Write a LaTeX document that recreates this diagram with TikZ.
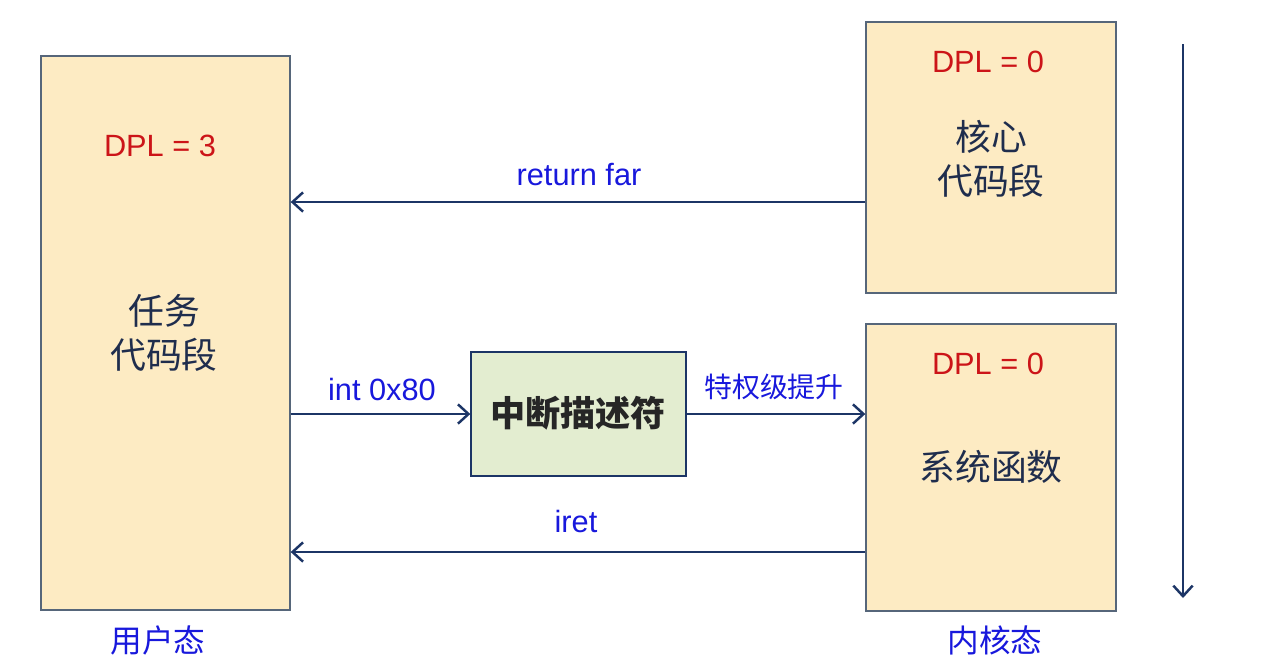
\documentclass[tikz,border=0pt]{standalone}
\usepackage{fontspec}
\setmainfont{Liberation Sans}
\newfontfamily\cjk{Noto Sans CJK SC}
\usetikzlibrary{arrows.meta}
\definecolor{segfill}{HTML}{FDEBC3}
\definecolor{segline}{HTML}{56667A}
\definecolor{idtfill}{HTML}{E3EDD0}
\definecolor{navy}{HTML}{1C3566}
\definecolor{lblblue}{HTML}{1818DC}
\definecolor{dplred}{HTML}{CC1418}
\definecolor{ink}{HTML}{1F2D4D}

\begin{document}
\begin{tikzpicture}[x=0.02cm, y=-0.02cm,
  seg/.style={draw=segline, fill=segfill, line width=0.8pt, inner sep=0pt},
  arr/.style={draw=navy, line width=1.4pt, -{Straight Barb[length=6pt, width=11pt, line width=1.4pt]}},
  dpl/.style={text=dplred, font=\fontsize{17.5}{20}\selectfont},
  segtext/.style={text=ink, font=\cjk\fontsize{20.4}{25}\selectfont, align=center},
  lbl/.style={text=lblblue, font=\fontsize{17.5}{20}\selectfont},
  zh/.style={text=lblblue, font=\cjk\fontsize{18}{21}\selectfont}]
  \useasboundingbox (0,0) rectangle (1262,664);
  % segments
  \node[seg, minimum width=4.98cm, minimum height=11.08cm] (task) at (165.5,333) {};
  \node[seg, minimum width=5.0cm, minimum height=5.42cm] (core) at (991,157.5) {};
  \node[seg, minimum width=5.0cm, minimum height=5.74cm] (sys) at (991,467.5) {};
  \node[draw=navy, fill=idtfill, line width=0.8pt, minimum width=4.3cm, minimum height=2.48cm] (idt) at (578.5,414) {};
  % texts in boxes
  \node[dpl] (dpl3) at (160,146) {DPL = 3};
  \node[dpl] (dpl0a) at (988,62) {DPL = 0};
  \node[dpl] (dpl0b) at (988,364) {DPL = 0};
  \node[segtext] (taskname) at (164,333) {任务\\代码段};
  \node[segtext] (corename) at (991,159) {核心\\代码段};
  \node[segtext] (sysname) at (991,467) {系统函数};
  \node[text=black!85, font=\cjk\bfseries\fontsize{20}{24}\selectfont] (idtname) at (578,413) {中断描述符};
  % connectors
  \draw[arr] (core.west |- 0,202) -- (task.east |- 0,202);
  \draw[arr] (task.east |- idt.west) -- (idt.west);
  \draw[arr] (idt.east) -- (sys.west |- idt.east);
  \draw[arr] (sys.west |- 0,552) -- (task.east |- 0,552);
  \coordinate (top) at (1183,44);
  \coordinate (bottom) at (1183,598);
  \draw[arr] (top) -- (bottom);
  % connector labels
  \node[lbl] (rflbl) at (579,175) {return far};
  \node[lbl] (intlbl) at (382,389) {int 0x80};
  \node[lbl] (iretlbl) at (576,521) {iret};
  \node[zh, font=\cjk\fontsize{15.9}{19}\selectfont] (upl) at (774,387) {特权级提升};
  % mode labels
  \node[zh] (user) at (158,640) {用户态};
  \node[zh] (kernel) at (995,640) {内核态};
\end{tikzpicture}
\end{document}
